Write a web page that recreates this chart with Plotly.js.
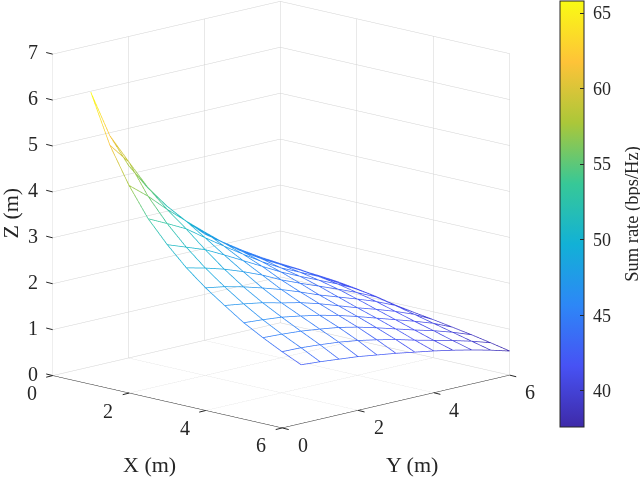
<!DOCTYPE html>
<html><head><meta charset="utf-8">
<script src="https://cdn.plot.ly/plotly-3.0.1.min.js"></script>
<style>html,body{margin:0;padding:0;background:#fff}#g{width:640px;height:477px}</style>
</head><body><div id="g"></div>
<script>
const xs=[0.5,1,1.5,2,2.5,3,3.5,4,4.5,5,5.5,6];
const ys=[0.5,1,1.5,2,2.5,3,3.5,4,4.5,5,5.5,6];
const zRows=[
[6.17,5.11,4.33,3.70,3.23,2.82,2.48,2.19,1.91,1.68,1.47,1.28],
[5.13,4.65,4.00,3.50,3.08,2.72,2.41,2.13,1.88,1.66,1.46,1.25],
[4.38,4.00,3.62,3.29,2.93,2.60,2.31,2.06,1.84,1.63,1.43,1.21],
[3.80,3.50,3.27,3.00,2.72,2.45,2.19,1.96,1.77,1.58,1.39,1.17],
[3.31,3.08,2.93,2.72,2.50,2.28,2.06,1.87,1.69,1.52,1.33,1.11],
[2.89,2.72,2.60,2.45,2.28,2.08,1.91,1.75,1.59,1.43,1.25,1.05],
[2.51,2.41,2.31,2.19,2.06,1.91,1.75,1.61,1.47,1.32,1.16,0.98],
[2.23,2.13,2.06,1.96,1.87,1.75,1.61,1.47,1.34,1.20,1.05,0.91],
[1.96,1.88,1.84,1.77,1.69,1.59,1.47,1.34,1.21,1.08,0.95,0.83],
[1.71,1.66,1.63,1.58,1.51,1.42,1.32,1.20,1.08,0.97,0.85,0.74],
[1.48,1.44,1.41,1.37,1.31,1.23,1.14,1.04,0.94,0.84,0.74,0.64],
[1.26,1.21,1.16,1.11,1.05,0.96,0.89,0.83,0.76,0.69,0.61,0.525]];
const rateRows=[
[65.8,61.5,57.5,53.5,51,49.5,48,46.8,45.6,44.5,43.3,42.2],
[61.5,58.7,55.8,53,50.8,49.3,48,47,46.2,45.3,44.3,43],
[57.5,55.3,53,51.2,49.8,48.6,47.6,46.7,45.8,45,44.1,43],
[53.5,52,50.6,49.4,48.4,47.5,46.7,45.9,45.2,44.5,43.8,42.8],
[51,49.6,48.6,47.7,47,46.3,45.6,45,44.5,43.9,43.2,42.4],
[49.2,48.1,47.2,46.5,45.8,45.2,44.6,44.1,43.6,43.1,42.6,41.9],
[47.6,46.8,46,45.4,44.8,44.3,43.8,43.4,43,42.5,42,41.4],
[46.6,45.7,45,44.5,44,43.5,43.1,42.7,42.4,41.9,41.4,40.9],
[45.4,44.7,44.2,43.7,43.2,42.8,42.4,42.1,41.8,41.4,40.9,40.3],
[44.2,43.7,43.3,42.9,42.5,42.1,41.8,41.5,41.2,40.8,40.3,39.7],
[43,42.6,42.3,42,41.7,41.4,41.1,40.8,40.5,40.1,39.6,39],
[41.8,41.5,41.2,40.9,40.6,40.3,40,39.6,39.2,38.8,38.3,37.7]];
const xyTicks=[0,2,4,6];
const zTicks=[0,1,2,3,4,5,6,7];
const barTicks=[40,45,50,55,60,65];
const parula=[[0,'#3e2aa8'],[0.143,'#4752f4'],[0.286,'#2d87f7'],[0.429,'#12b1d6'],[0.571,'#37c897'],[0.714,'#abc739'],[0.857,'#fec338'],[1,'#f9fb14']];
const serif='"Liberation Serif","Times New Roman",serif';
const X=[],Y=[],Z=[],C=[];
function pt(i,j){X.push(xs[i]);Y.push(ys[j]);Z.push(zRows[j][i]);C.push(rateRows[j][i]);}
function gap(){X.push(null);Y.push(null);Z.push(null);C.push(null);}
for(let j=0;j<ys.length;j++){for(let i=0;i<xs.length;i++)pt(i,j);gap();}
for(let i=0;i<xs.length;i++){for(let j=0;j<ys.length;j++)pt(i,j);gap();}
const ann=[];
const lab=(x,y,z,t,sx,sy,size,extra)=>ann.push(Object.assign({x,y,z,text:String(t),showarrow:false,xshift:sx,yshift:sy,font:{family:serif,size,color:'#262626'}},extra||{}));
const tick=(x,y,z,ax,ay)=>ann.push({x,y,z,text:' ',showarrow:true,arrowhead:0,arrowwidth:1,arrowcolor:'#262626',standoff:0,startstandoff:0,ax,ay,font:{size:1}});
xyTicks.forEach(v=>{tick(v,0,0,-8,2);lab(v,0,0,v,-21,-17.5,20);});
xyTicks.forEach(v=>{tick(6,v,0,8,2);lab(6,v,0,v,20.5,-17,20);});
zTicks.forEach(v=>{tick(0,0,v,-8,-2);lab(0,0,v,v,-20,2,20);});
lab(3,0,0,'X (m)',-18,-62.5,22);
lab(6,3,0,'Y (m)',16,-62.5,22);
lab(0,0,3.5,'Z (m)',-42,2,22,{textangle:-90});
const axis=(rng,dt,line)=>({range:rng,autorange:false,dtick:dt,tick0:0,showticklabels:false,showbackground:false,showgrid:true,gridcolor:'#d2d2d2',gridwidth:1,zeroline:false,showline:line,linecolor:'#262626',linewidth:1,ticks:'',showspikes:false,title:{text:''}});
Plotly.newPlot('g',[{type:'scatter3d',mode:'lines',x:X,y:Y,z:Z,connectgaps:false,hoverinfo:'skip',
 line:{width:1.5,color:C,colorscale:parula,cmin:37.6,cmax:65.8,showscale:true,
  colorbar:{x:560/640,xanchor:'left',y:1-1/477,yanchor:'top',len:426/477,lenmode:'fraction',thickness:24,thicknessmode:'pixels',
   tickmode:'array',tickvals:barTicks,ticktext:barTicks.map(v=>'\u00a0'+v+'\u00a0\u00a0'),ticks:'inside',ticklen:4,tickcolor:'#262626',
   tickfont:{family:serif,size:18,color:'#262626'},outlinecolor:'#262626',outlinewidth:1,borderwidth:0,xpad:0,ypad:0,
   title:{text:'Sum rate (bps/Hz)',side:'right',font:{family:serif,size:18.5,color:'#262626'}}}}}],
{width:640,height:477,margin:{l:0,r:0,t:0,b:0,autoexpand:false},paper_bgcolor:'#fff',showlegend:false,
 scene:{domain:{x:[0,1],y:[0,1]},aspectmode:'manual',aspectratio:{x:1.355,y:1.355,z:1.385},
  camera:{eye:{x:0.685+0.115,y:-0.691+0.115,z:0.23-0.103},center:{x:0.115,y:0.115,z:-0.103},up:{x:0,y:0,z:1},projection:{type:'orthographic'}},
  xaxis:axis([0,6],2,true),yaxis:axis([0,6],2,true),zaxis:axis([0,7],1,false),annotations:ann}},
{displayModeBar:false});
</script></body></html>
